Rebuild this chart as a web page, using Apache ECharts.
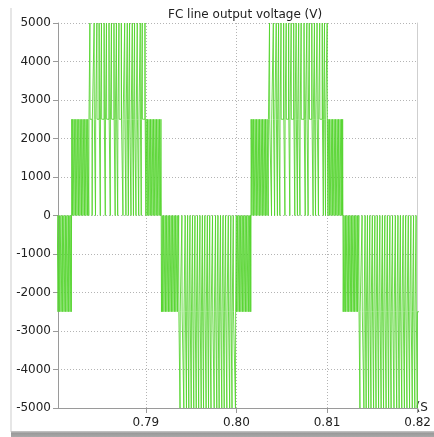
<!DOCTYPE html>
<html><head><meta charset="utf-8">
<script src="https://cdn.jsdelivr.net/npm/echarts@6/dist/echarts.min.js"></script>
<style>html,body{margin:0;padding:0;background:#fff}#c{width:434px;height:437px}</style>
</head><body><div id="c"></div>
<script>
// ---------- text ----------
const TITLE = 'FC line output voltage (V)';
const X_NAME = '(S';
// ---------- axes ----------
const X_MIN = 0.7803, X_MAX = 0.82;
const Y_MIN = -5000, Y_MAX = 5000, Y_STEP = 1000;
const STEP_V = 2500;          // one voltage level
const PULSE_MS = 0.02;        // narrow switching pulse width (ms)

// ---------- half cycles (times in ms) ----------
const halfStart_ms = [779.90, 781.82, 791.72, 801.62, 811.78];
const halfEnd_ms   = [781.82, 791.72, 801.62, 811.78, 820.60];
const halfSign     = [-1, 1, -1, 1, -1];

// notches: short returns to 0 V from the +/-2500 V base (ms)
const n0Notches = [779.98, 780.14, 780.30, 780.47, 780.63, 780.80, 780.96, 781.13, 781.29, 781.46, 781.62, 781.76];
const p1Notches = [781.92, 782.08, 782.25, 782.41, 782.58, 782.74, 782.91, 783.07, 783.24, 783.40, 783.57, 783.71,
  784.08, 784.45, 784.98, 785.53, 786.08, 786.62, 786.90, 787.48, 787.81, 788.08, 788.37, 788.64, 788.92, 789.22, 789.50,
  790.01, 790.17, 790.34, 790.50, 790.67, 790.83, 791.00, 791.16, 791.33, 791.49, 791.65];
const n1Notches = [791.82, 791.98, 792.15, 792.31, 792.48, 792.64, 792.81, 792.97, 793.14, 793.30, 793.47, 793.63,
  793.99, 794.35, 794.62, 794.88, 795.16, 795.43, 795.71, 795.98, 796.25, 796.52, 796.80, 797.06, 797.37, 797.70, 797.97, 798.25, 798.53, 798.81, 799.11, 799.39, 799.66,
  799.99, 800.15, 800.32, 800.48, 800.65, 800.81, 800.98, 801.14, 801.31, 801.47, 801.57];
const p2Notches = [801.72, 801.88, 802.05, 802.21, 802.38, 802.54, 802.71, 802.87, 803.04, 803.20, 803.37, 803.52,
  803.88, 804.22, 804.53, 804.80, 805.36, 805.90, 806.45, 806.74, 807.02, 807.60, 807.92, 808.47, 808.74, 809.06, 809.60, 809.84,
  810.11, 810.27, 810.44, 810.60, 810.77, 810.93, 811.10, 811.26, 811.43, 811.59, 811.71];
const n2Notches = [811.88, 812.04, 812.21, 812.37, 812.54, 812.70, 812.87, 813.03, 813.20, 813.36, 813.52,
  813.88, 814.21, 814.47, 814.73, 815.01, 815.29, 815.56, 815.84, 816.12, 816.39, 816.67, 816.95, 817.24, 817.55, 817.84, 818.11, 818.41, 818.69, 818.98, 819.27, 819.56, 819.84];

// spikes: short excursions to +/-5000 V (ms)
const n0Spikes = [];
const p1Spikes = [783.83, 784.30, 784.60, 784.85, 785.11, 785.40, 785.66, 785.94, 786.21, 786.49, 786.76, 787.04, 787.30, 787.67, 787.96, 788.21, 788.51, 788.76, 789.06, 789.39, 789.61, 789.91];
const n1Spikes = [793.78, 794.20, 794.49, 794.75, 795.02, 795.30, 795.57, 795.84, 796.12, 796.38, 796.66, 796.93, 797.20, 797.55, 797.84, 798.10, 798.39, 798.66, 798.95, 799.26, 799.52, 799.90];
const p2Spikes = [803.66, 804.08, 804.40, 804.66, 804.93, 805.22, 805.50, 805.77, 806.05, 806.33, 806.60, 806.88, 807.15, 807.47, 807.78, 808.05, 808.33, 808.62, 808.91, 809.20, 809.48, 809.73, 810.02];
const n2Spikes = [813.64, 814.08, 814.33, 814.60, 814.86, 815.15, 815.42, 815.70, 815.98, 816.25, 816.53, 816.81, 817.08, 817.40, 817.70, 817.97, 818.26, 818.55, 818.83, 819.12, 819.42, 819.70, 819.97];

const notchLists = [n0Notches, p1Notches, n1Notches, p2Notches, n2Notches];
const spikeLists = [n0Spikes, p1Spikes, n1Spikes, p2Spikes, n2Spikes];

// ---------- build step waveform ----------
const pts = [];
for (let h = 0; h < halfStart_ms.length; h++) {
  const base = halfSign[h] * STEP_V;
  const ev = [];
  notchLists[h].forEach(t => ev.push([t, 0]));
  spikeLists[h].forEach(t => ev.push([t, halfSign[h] * 2 * STEP_V]));
  ev.sort((a, b) => a[0] - b[0]);
  pts.push([halfStart_ms[h] / 1000, base]);
  ev.forEach(([t, lv]) => {
    const a = (t - PULSE_MS / 2) / 1000, b = (t + PULSE_MS / 2) / 1000;
    pts.push([a, base], [a, lv], [b, lv], [b, base]);
  });
  pts.push([halfEnd_ms[h] / 1000, base]);
}

const FONT = 'DejaVu Sans';
const AX = '#9a9a9a';
const chart = echarts.init(document.getElementById('c'), null, {renderer: 'canvas'});
chart.setOption({
  animation: false,
  backgroundColor: '#ffffff',
  textStyle: {fontFamily: FONT},
  title: {
    text: TITLE, left: 163, top: 4,
    textStyle: {fontSize: 12, fontWeight: 'normal', color: '#222', fontFamily: FONT}
  },
  grid: {left: 58, top: 23, width: 363, height: 385, containLabel: false},
  xAxis: {
    type: 'value', min: X_MIN, max: X_MAX, splitNumber: 4,
    name: X_NAME, nameLocation: 'end', nameGap: -2,
    nameTextStyle: {color: '#222', fontSize: 12, fontFamily: FONT, padding: [4, 0, 0, 0]},
    axisLine: {onZero: false, lineStyle: {color: AX}},
    axisTick: {show: true, length: 5, lineStyle: {color: AX}},
    axisLabel: {color: '#222', fontSize: 12, margin: 9, showMinLabel: false,
      formatter: v => (Math.abs(v * 100 - Math.round(v * 100)) < 1e-6 ? v.toFixed(2) : '')},
    splitLine: {show: true, lineStyle: {color: '#b4b4b4', type: [1, 2]}}
  },
  yAxis: [{
    type: 'value', min: Y_MIN, max: Y_MAX, interval: Y_STEP,
    axisLine: {show: true, onZero: false, lineStyle: {color: AX}},
    axisTick: {show: true, length: 5, lineStyle: {color: AX}},
    axisLabel: {color: '#222', fontSize: 12, margin: 7, formatter: v => String(v)},
    splitLine: {show: true, lineStyle: {color: '#b4b4b4', type: [1, 2]}}
  }, {
    type: 'value', position: 'right', min: Y_MIN, max: Y_MAX,
    axisLine: {show: true, onZero: false, lineStyle: {color: '#cfcfcf'}},
    axisTick: {show: false}, axisLabel: {show: false}, splitLine: {show: false}
  }],
  graphic: [
    {type: 'rect', silent: true, z: -10, shape: {x: 10, y: 8, width: 2, height: 424}, style: {fill: '#e6e6e6'}},
    {type: 'rect', silent: true, z: -10, shape: {x: 11, y: 431, width: 423, height: 6},
      style: {fill: new echarts.graphic.LinearGradient(0, 0, 0, 1, [
        {offset: 0, color: '#c8c8c8'}, {offset: 0.4, color: '#9a9a9a'}, {offset: 1, color: '#a8a8a8'}])}}
  ],
  series: [{
    type: 'line', data: pts, xAxisIndex: 0, yAxisIndex: 0,
    showSymbol: false, symbol: 'none', silent: true, clip: true,
    lineStyle: {color: '#52d42c', width: 1, opacity: 0.85}
  }]
});
</script></body></html>
